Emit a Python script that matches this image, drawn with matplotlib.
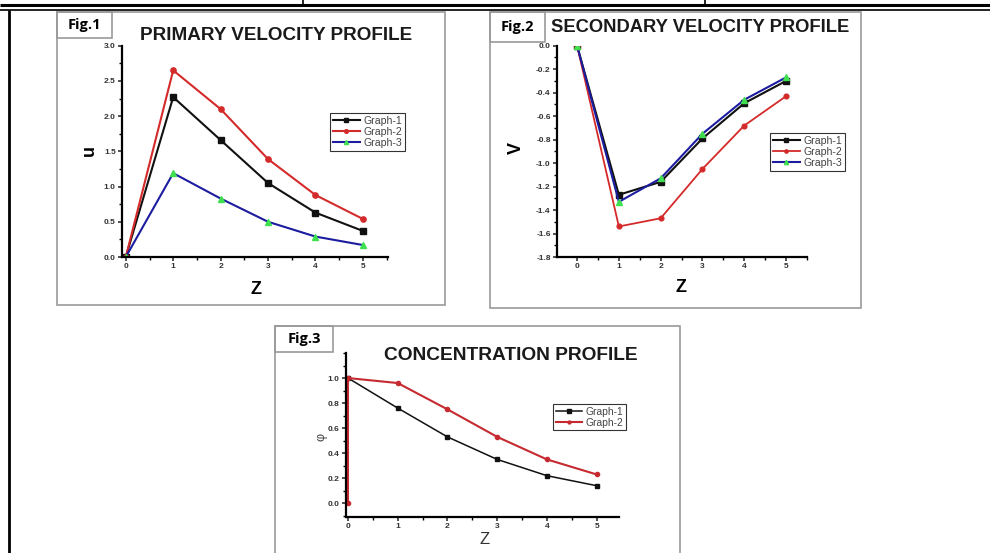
import matplotlib
matplotlib.use("Agg")
import matplotlib.pyplot as plt
from matplotlib.lines import Line2D
from matplotlib.patches import Rectangle
from matplotlib.ticker import MultipleLocator

plt.rcParams['font.family'] = ['Liberation Sans', 'DejaVu Sans']

# ---- data ----
z = [0, 1, 2, 3, 4, 5]
u_graph1 = [0.0, 2.27, 1.66, 1.05, 0.63, 0.37]
u_graph2 = [0.0, 2.65, 2.10, 1.39, 0.88, 0.54]
u_graph3 = [0.0, 1.19, 0.83, 0.50, 0.29, 0.17]

v_graph1 = [0.0, -1.27, -1.16, -0.79, -0.49, -0.30]
v_graph2 = [0.0, -1.54, -1.47, -1.05, -0.68, -0.43]
v_graph3 = [0.0, -1.33, -1.13, -0.75, -0.46, -0.27]

phi_z1 = [0, 1, 2, 3, 4, 5]
phi_graph1 = [1.0, 0.76, 0.53, 0.35, 0.22, 0.14]
phi_z2 = [0, 0, 1, 2, 3, 4, 5]
phi_graph2 = [0.0, 1.0, 0.96, 0.75, 0.53, 0.35, 0.23]

labels = ["Graph-1", "Graph-2", "Graph-3"]
titles = ["PRIMARY VELOCITY PROFILE", "SECONDARY VELOCITY PROFILE", "CONCENTRATION PROFILE"]
fig_tags = ["Fig.1", "Fig.2", "Fig.3"]

W, H = 990, 553
fig = plt.figure(figsize=(W / 100, H / 100), dpi=100)
fig.patch.set_facecolor('white')


def fx(x):
    return x / W


def fy(y):
    return 1 - y / H


def line(x0, y0, x1, y1, color='black', lw=1.0):
    fig.add_artist(Line2D([fx(x0), fx(x1)], [fy(y0), fy(y1)], color=color, lw=lw,
                          transform=fig.transFigure, solid_capstyle='butt'))


def rect(x0, y0, x1, y1, ec='#9a9a9a', lw=1.2):
    fig.add_artist(Rectangle((fx(x0), fy(y1)), fx(x1) - fx(x0), fy(y0) - fy(y1),
                             fill=False, ec=ec, lw=lw, transform=fig.transFigure))


def add_axes(l, t, r, b):
    return fig.add_axes([fx(l), fy(b), fx(r) - fx(l), fy(t) - fy(b)])


# ---- page table lines ----
line(0, 5, W, 5, lw=2.2)
line(0, 9.5, W, 9.5, lw=1.2)
line(303, 0, 303, 5, lw=1.2)
line(705, 0, 705, 5, lw=1.2)
line(8.5, 9.5, 8.5, H, lw=2.0)

# ---- panels ----
rect(57, 12, 445, 305)
rect(57, 12, 112, 38)
rect(490, 12, 861, 308)
rect(490, 12, 545, 42)
rect(275, 326, 680, H + 5)
rect(275, 326, 333, 352)

tagfont = ['Open Sans', 'DejaVu Sans']
fig.text(fx(84), fy(25), fig_tags[0], ha='center', va='center', fontsize=10.5,
         fontweight='bold', family=tagfont)
fig.text(fx(517), fy(27), fig_tags[1], ha='center', va='center', fontsize=10.5,
         fontweight='bold', family=tagfont)
fig.text(fx(304), fy(339), fig_tags[2], ha='center', va='center', fontsize=10.5,
         fontweight='bold', family=tagfont)

fig.text(fx(276), fy(36), titles[0], ha='center', va='center', fontsize=13.6, fontweight='bold',
         color='#1a1a1a')
fig.text(fx(700), fy(28), titles[1], ha='center', va='center', fontsize=13.2, fontweight='bold',
         color='#1a1a1a')
fig.text(fx(511), fy(355), titles[2], ha='center', va='center', fontsize=13.8, fontweight='bold',
         color='#1a1a1a')


def style_axis(ax, ymaj, ymin):
    for s in ['top', 'right']:
        ax.spines[s].set_visible(False)
    for s in ['left', 'bottom']:
        ax.spines[s].set_linewidth(1.6)
    ax.xaxis.set_major_locator(MultipleLocator(1))
    ax.xaxis.set_minor_locator(MultipleLocator(0.5))
    ax.yaxis.set_major_locator(MultipleLocator(ymaj))
    ax.yaxis.set_minor_locator(MultipleLocator(ymin))
    ax.tick_params(which='major', direction='out', length=3, width=1.2, labelsize=6,
                   pad=1.5, colors='#333333')
    ax.tick_params(which='minor', direction='out', length=2, width=1.0)
    for lab in ax.get_xticklabels() + ax.get_yticklabels():
        lab.set_fontweight('bold')
    ax.set_facecolor('none')


def legend(ax, x, y, fs):
    lg = ax.legend(loc='upper left', bbox_to_anchor=(fx(x), fy(y)), bbox_transform=fig.transFigure,
                   fontsize=fs, frameon=True, fancybox=False, edgecolor='black', handlelength=2.6,
                   handletextpad=0.3, borderpad=0.25, labelspacing=0.12, borderaxespad=0,
                   labelcolor='#444444', markerscale=0.7)
    lg.get_frame().set_linewidth(0.8)
    return lg


black = '#111111'
red = '#d42a2a'
blue = '#1c1ca0'
green = '#3fe04f'

# ---- Fig.1 ----
ax1 = add_axes(122, 45.7, 388, 257)
ax1.plot(z, u_graph1, color=black, lw=1.5, marker='s', ms=3.8, label=labels[0])
ax1.plot(z, u_graph2, color=red, lw=1.5, marker='o', ms=3.8, label=labels[1])
ax1.plot(z, u_graph3, color=blue, lw=1.5, marker='^', ms=4.2, mfc=green, mec=green, label=labels[2])
ax1.set_xlim(-0.08, 5.53)
ax1.set_ylim(0, 3.0)
ax1.yaxis.set_major_formatter(plt.FormatStrFormatter('%.1f'))
style_axis(ax1, 0.5, 0.25)
legend(ax1, 330, 113, 7.6)
fig.text(fx(89), fy(150), 'u', rotation=90, ha='center', va='center', fontsize=13, fontweight='bold')
fig.text(fx(256), fy(290), 'Z', ha='center', va='center', fontsize=13, fontweight='bold')

# ---- Fig.2 ----
ax2 = add_axes(557, 45.7, 807, 257)
ax2.plot(z, v_graph1, color=black, lw=1.5, marker='s', ms=3.8, label=labels[0])
ax2.plot(z, v_graph2, color=red, lw=1.3, marker='o', ms=3.4, label=labels[1])
ax2.plot(z, v_graph3, color=blue, lw=1.5, marker='^', ms=4.4, mfc=green, mec=green, label=labels[2])
ax2.set_xlim(-0.48, 5.5)
ax2.set_ylim(-1.8, 0.0)
ax2.yaxis.set_major_formatter(plt.FormatStrFormatter('%.1f'))
style_axis(ax2, 0.2, 0.1)
legend(ax2, 770, 133, 7.6)
fig.text(fx(516), fy(148), 'V', rotation=90, ha='center', va='center', fontsize=13, fontweight='bold')
fig.text(fx(681), fy(288), 'Z', ha='center', va='center', fontsize=13, fontweight='bold')

# ---- Fig.3 ----
dred = '#c62a30'
ax3 = add_axes(345.5, 353, 619, 517)
ax3.plot(phi_z1, phi_graph1, color=black, lw=1.1, marker='s', ms=3.2, label=labels[0])
ax3.plot(phi_z2, phi_graph2, color=dred, lw=1.5, marker='o', ms=3.0, label=labels[1])
ax3.set_xlim(-0.05, 5.45)
ax3.set_ylim(-0.11, 1.2)
style_axis(ax3, 0.2, 0.1)
ax3.set_yticks([0.0, 0.2, 0.4, 0.6, 0.8, 1.0])
ax3.yaxis.set_major_formatter(plt.FormatStrFormatter('%.1f'))
for lab in ax3.get_yticklabels():
    lab.set_fontweight('bold')
legend(ax3, 553, 404, 7.4)
fig.text(fx(322), fy(437), 'φ', rotation=90, ha='center', va='center', fontsize=9, color='#444444')
fig.text(fx(485), fy(540), 'Z', ha='center', va='center', fontsize=12, color='#333333')

fig.savefig('out.png', dpi=100, facecolor='white')
